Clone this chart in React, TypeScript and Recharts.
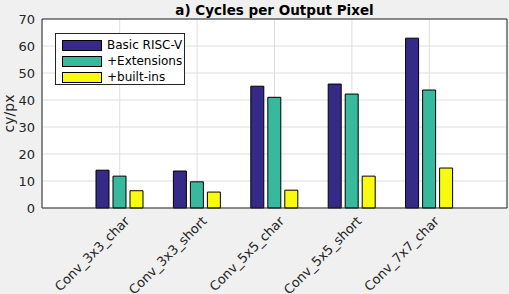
import React from "react";
import { BarChart, Bar, XAxis, YAxis, CartesianGrid, Legend } from "recharts";

// values (cycles per output pixel)
const CATEGORIES = ["Conv_3x3_char", "Conv_3x3_short", "Conv_5x5_char", "Conv_5x5_short", "Conv_7x7_char"];
const BASIC_RISCV = [14.0, 13.7, 45.1, 45.9, 62.9];
const EXTENSIONS = [11.8, 9.7, 41.0, 42.2, 43.7];
const BUILT_INS = [6.4, 5.9, 6.6, 11.8, 14.8];
const SERIES_NAMES = ["Basic RISC-V", "+Extensions", "+built-ins"];
const Y_TICKS = [0, 10, 20, 30, 40, 50, 60, 70];
const TITLE = "a) Cycles per Output Pixel";
const Y_LABEL = "cy/px";

const data = CATEGORIES.map((name, i) => ({
  name,
  basic: BASIC_RISCV[i],
  ext: EXTENSIONS[i],
  builtins: BUILT_INS[i],
}));

const COLORS = ["#352a87", "#38b99e", "#f9fb0e"];
const AXIS = "#262626";
const FONT = "'DejaVu Sans', sans-serif";

const XTick = ({ x, y, payload }: any) => {
  const ax = x + 10.5;
  const ay = y + 14;
  return (
    <text
      x={ax}
      y={ay}
      transform={`rotate(-45 ${ax} ${ay})`}
      textAnchor="end"
      fontSize={13}
      fontFamily={FONT}
      fill={AXIS}
    >
      {payload.value}
    </text>
  );
};

const LegendBox = () => (
  <div
    style={{
      boxSizing: "border-box",
      width: 130,
      height: 52,
      background: "#fff",
      border: `1px solid ${AXIS}`,
      padding: "3px 0 0 6px",
      fontFamily: FONT,
      fontSize: 12,
      color: "#000",
    }}
  >
    {SERIES_NAMES.map((name, i) => (
      <div key={name} style={{ display: "flex", alignItems: "center", height: 16 }}>
        <span
          style={{
            boxSizing: "border-box",
            display: "inline-block",
            width: 40,
            height: 11,
            background: COLORS[i],
            border: "1px solid #000",
            marginRight: 5,
          }}
        />
        <span>{name}</span>
      </div>
    ))}
  </div>
);

const App = () => (
  <div style={{ position: "absolute", left: 0, top: 0, width: 509, height: 294, background: "#f0f0f0" }}>
    <BarChart
      width={509}
      height={294}
      data={data}
      margin={{ top: 19, right: 2, bottom: 0, left: 0 }}
      barSize={13}
      barGap={4}
    >
      <CartesianGrid fill="#fff" stroke="#dfdfdf" />
      <XAxis
        dataKey="name"
        height={86}
        padding={{ left: 39, right: 39 }}
        interval={0}
        tickLine={false}
        tickSize={0}
        tickMargin={0}
        axisLine={{ stroke: AXIS }}
        tick={<XTick />}
      />
      <XAxis
        xAxisId="top"
        dataKey="name"
        orientation="top"
        mirror
        height={1}
        padding={{ left: 39, right: 39 }}
        interval={0}
        tick={false}
        tickSize={5}
        tickLine={{ stroke: AXIS }}
        axisLine={{ stroke: AXIS }}
        label={{ value: TITLE, position: "top", offset: 4, fontSize: 13.5, fontWeight: "bold", fill: "#000", fontFamily: FONT }}
      />
      <XAxis
        xAxisId="bottomTicks"
        dataKey="name"
        mirror
        height={1}
        padding={{ left: 39, right: 39 }}
        interval={0}
        tick={false}
        tickSize={5}
        tickLine={{ stroke: AXIS }}
        axisLine={false}
      />
      <YAxis
        domain={[0, 70]}
        ticks={Y_TICKS}
        width={42}
        tickLine={false}
        tickSize={0}
        tickMargin={7}
        axisLine={{ stroke: AXIS }}
        tick={{ fill: AXIS, fontSize: 13, fontFamily: FONT }}
        label={{ value: Y_LABEL, angle: -90, position: "center", dx: -12, fontSize: 14, fill: AXIS, fontFamily: FONT }}
      />
      <YAxis
        yAxisId="leftTicks"
        mirror
        width={1}
        domain={[0, 70]}
        ticks={Y_TICKS}
        tick={false}
        tickSize={4}
        tickLine={{ stroke: AXIS }}
        axisLine={false}
      />
      <YAxis
        yAxisId="right"
        orientation="right"
        mirror
        width={1}
        domain={[0, 70]}
        ticks={Y_TICKS}
        tick={false}
        tickSize={5}
        tickLine={{ stroke: AXIS }}
        axisLine={{ stroke: AXIS }}
      />
      <Legend
        layout="vertical"
        align="center"
        verticalAlign="middle"
        wrapperStyle={{ left: 55, top: 33, width: 130, height: 52 }}
        content={<LegendBox />}
      />
      <Bar dataKey="basic" name={SERIES_NAMES[0]} fill={COLORS[0]} stroke="#000" strokeWidth={1} isAnimationActive={false} />
      <Bar dataKey="ext" name={SERIES_NAMES[1]} fill={COLORS[1]} stroke="#000" strokeWidth={1} isAnimationActive={false} />
      <Bar dataKey="builtins" name={SERIES_NAMES[2]} fill={COLORS[2]} stroke="#000" strokeWidth={1} isAnimationActive={false} />
    </BarChart>
  </div>
);

export default App;
